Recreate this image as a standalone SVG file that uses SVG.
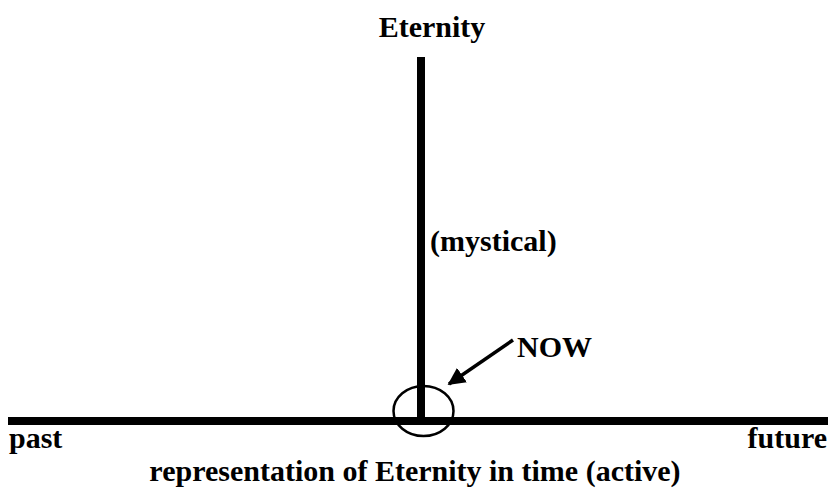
<svg xmlns="http://www.w3.org/2000/svg" width="830" height="490" viewBox="0 0 830 490">
<defs>
<style>
.t{font-family:"Liberation Serif","Times New Roman",serif;font-weight:bold;font-size:30px;fill:#000}
.ln{stroke:#000;fill:none}
</style>
<marker id="ah" viewBox="0 0 10 10" refX="9" refY="5" markerWidth="5" markerHeight="5" orient="auto" markerUnits="strokeWidth">
<path d="M0,0 L10,5 L0,10 z" fill="#000"/>
</marker>
</defs>
<rect width="830" height="490" fill="#fff"/>
<g id="connectors">
<line class="ln" x1="8" y1="421" x2="828" y2="421" stroke-width="8"/>
<line class="ln" x1="421" y1="57" x2="421" y2="421" stroke-width="8"/>
<line class="ln" x1="513" y1="340" x2="449" y2="384" stroke-width="3.5" marker-end="url(#ah)"/>
</g>
<g id="now-circle"><ellipse class="ln" cx="423.5" cy="411" rx="30" ry="25" stroke-width="2.5"/></g>
<g id="eternity"><text class="t" x="432" y="37" text-anchor="middle">Eternity</text></g>
<g id="mystical"><text class="t" x="430" y="251">(mystical)</text></g>
<g id="now"><text class="t" x="517" y="357">NOW</text></g>
<g id="past"><text class="t" x="9" y="448">past</text></g>
<g id="future"><text class="t" x="827" y="448" text-anchor="end">future</text></g>
<g id="caption"><text class="t" x="415" y="481" text-anchor="middle">representation of Eternity in time (active)</text></g>
</svg>
